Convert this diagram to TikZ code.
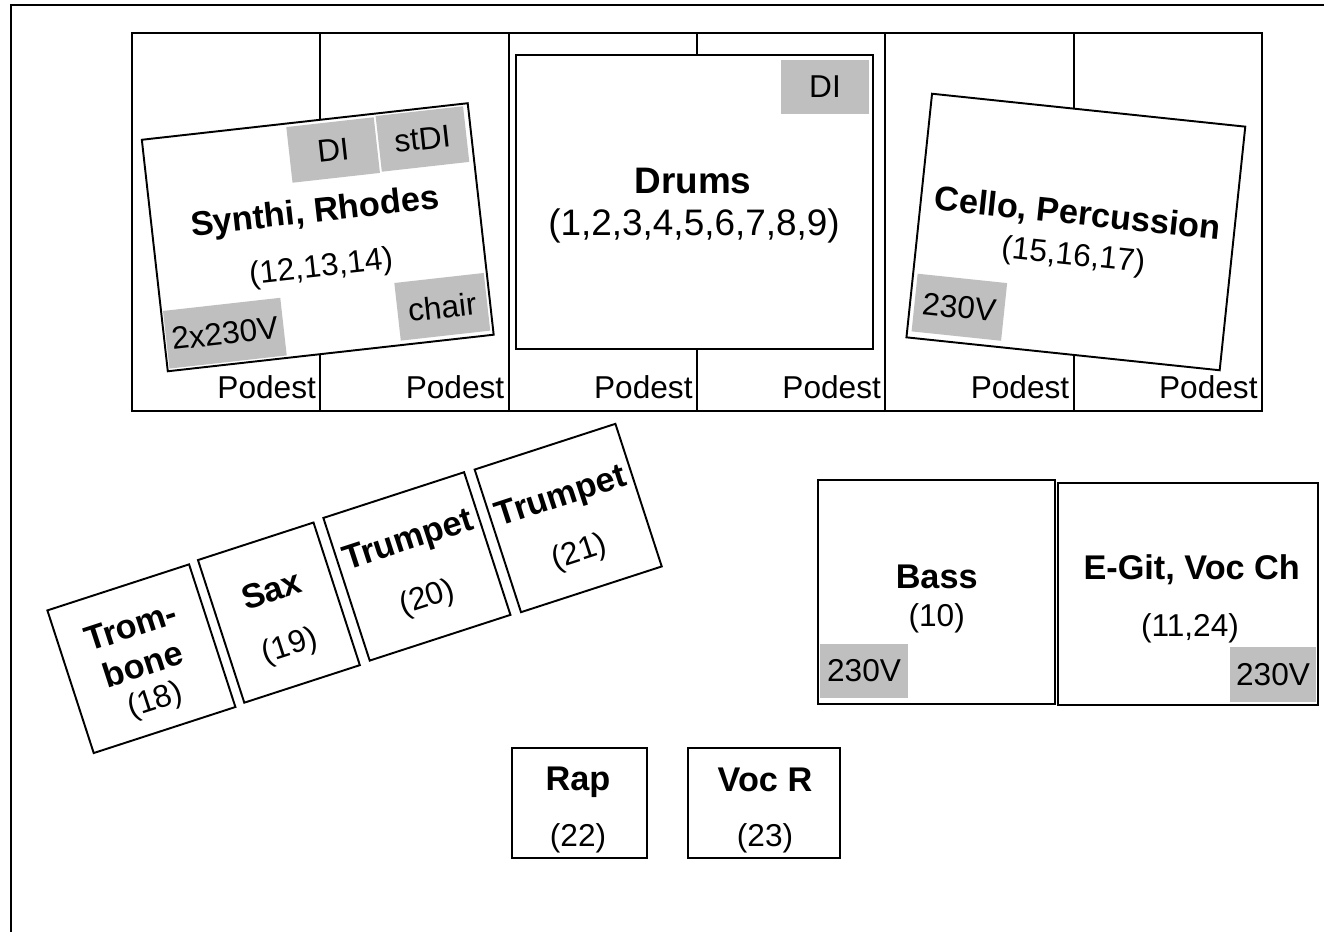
\documentclass[tikz,border=0pt]{standalone}
\usepackage{fontspec}
\setmainfont{Liberation Sans}
\usetikzlibrary{calc}
\definecolor{boxgray}{RGB}{191,191,191}
\tikzset{
  podest/.style={draw, line width=1.1pt, minimum width=3.766cm, minimum height=7.56cm, inner sep=0pt},
  plate/.style={draw, line width=1.1pt, fill=white, inner sep=0pt},
  gear/.style={fill=boxgray, inner sep=0pt, font=\fontsize{18}{20}\selectfont},
  instr/.style={font=\bfseries\fontsize{19.5}{23}\selectfont, inner sep=0pt},
  chan/.style={font=\fontsize{18}{20}\selectfont, inner sep=0pt},
  drumtxt/.style={font=\fontsize{21}{24}\selectfont, inner sep=0pt},
}

\begin{document}
\begin{tikzpicture}[x=0.02cm, y=-0.02cm]
    \useasboundingbox (0,0) rectangle (1324,932);
    \draw [line width=1.6pt] (11,940) -- (11,5) -- (1330,5);

    \foreach \i in {0,...,5}{
        \node[podest] (pod\i) at ({226.17+188.33*\i},222) {};
        \node[chan, anchor=base east] (podlab\i) at ($(pod\i.south east)+(-5,-13)$) {Podest};
    }

    \begin{scope}[shift={(317.75,237.25)}, rotate=6.4, transform shape]
        \node[plate, minimum width=6.56cm, minimum height=4.66cm] (keys) at (0,0) {};
        \node[gear, minimum width=1.76cm, minimum height=1.12cm] (keysdi) at (25,-85) {DI};
        \node[gear, minimum width=1.76cm, minimum height=1.12cm] (keysstdi) at (115,-86) {stDI};
        \node[gear, minimum width=2.36cm, minimum height=1.16cm] (keyspow) at (-103,85) {2x230V};
        \node[gear, minimum width=1.8cm, minimum height=1.16cm] (keyschair) at (116,83) {chair};
        \node[instr] (keyslab) at (0,-24) {Synthi, Rhodes};
        \node[chan] (keysch) at (0,31) {(12,13,14)};
    \end{scope}

    \node[plate, minimum width=7.14cm, minimum height=5.88cm] (drums) at (694.5,202) {};
    \node[gear, minimum width=1.76cm, minimum height=1.08cm] (drumsdi) at (825,87) {DI};
    \node[drumtxt] (drumslab) at (693,181) {\bfseries Drums};
    \node[drumtxt] (drumsch) at (694,226) {(1,2,3,4,5,6,7,8,9)};

    \begin{scope}[shift={(1075.85,232)}, rotate=-6, transform shape]
        \node[plate, minimum width=6.3cm, minimum height=4.9cm] (cello) at (0,0) {};
        \node[gear, minimum width=1.8cm, minimum height=1.16cm] (cellopow) at (-108,87) {230V};
        \node[instr] (cellolab) at (0,-17) {Cello, Percussion};
        \node[chan] (cellech) at (0,25) {(15,16,17)};
    \end{scope}

    \foreach \cx/\cy/\w/\nm/\lab/\ly/\num/\ny in {
        141.4/658.7/2.98/trb/{Trom-\\bone}/-14/{(18)}/45,
        278.9/612.6/2.43/sax/{Sax}/-24/{(19)}/36,
        416.9/566.4/2.96/tpa/{Trumpet}/-26/{(20)}/34,
        568.2/518/2.96/tpb/{Trumpet}/-21/{(21)}/37}{
        \begin{scope}[shift={(\cx,\cy)}, rotate=18, transform shape]
            \node[plate, minimum width=\w cm, minimum height=3cm] (\nm) at (0,0) {};
            \node[instr, align=center] (lab\nm) at (0,\ly) {\lab};
            \node[chan] (ch\nm) at (0,\ny) {\num};
        \end{scope}
    }

    \node[plate, minimum width=4.74cm, minimum height=4.48cm] (bass) at (936.5,592) {};
    \node[gear, minimum width=1.76cm, minimum height=1.08cm] (basspow) at (864,671) {230V};
    \node[instr] (basslab) at (936.7,577) {Bass};
    \node[chan] (bassch) at (936.7,618) {(10)};

    \node[plate, minimum width=5.2cm, minimum height=4.44cm] (egit) at (1188,594) {};
    \node[gear, minimum width=1.72cm, minimum height=1.1cm] (egitpow) at (1273,674.5) {230V};
    \node[instr] (egitlab) at (1191.7,570) {E-Git, Voc Ch};
    \node[chan] (egitch) at (1190,628) {(11,24)};

    \node[plate, minimum width=2.7cm, minimum height=2.2cm] (rap) at (579.5,803) {};
    \node[instr] (raplab) at (578,782) {Rap};
    \node[chan] (rapch) at (578,838) {(22)};

    \node[plate, minimum width=3.04cm, minimum height=2.2cm] (vocr) at (764,803) {};
    \node[instr] (vocrlab) at (765,780) {Voc R};
    \node[chan] (vocrch) at (765,838) {(23)};
\end{tikzpicture}
\end{document}
